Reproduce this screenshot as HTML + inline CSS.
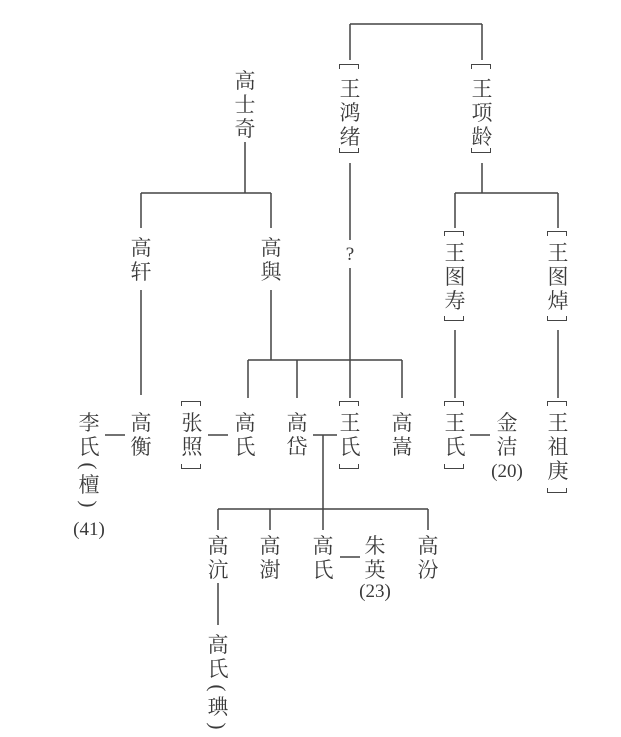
<!DOCTYPE html>
<html><head><meta charset="utf-8"><style>
body{margin:0;background:#fff;}
#w{position:relative;width:621px;height:737px;overflow:hidden;font-family:"Liberation Serif","Noto Serif CJK SC",serif;color:#3a3a3a;}
.v{position:absolute;width:24px;text-align:center;font-size:21px;line-height:24px;}
.v i{display:block;font-style:normal;line-height:14px;height:14px;transform:rotate(90deg);}
.h{position:absolute;font-size:19px;line-height:20px;transform:translateX(-50%);white-space:nowrap;}
.bt,.bb{position:absolute;width:18px;height:4px;border:1.5px solid #444;}
.bt{border-bottom:none;}
.bb{border-top:none;}
svg{position:absolute;left:0;top:0;}
</style></head><body><div id="w">
<svg width="621" height="737" stroke="#444" stroke-width="1.5" fill="none">
<path d="M350 24H482M350 24V60M482 24V60"/>
<path d="M350 163V240M350 268V398M248 360H402M248 360V398M297 360V398M402 360V398M271 290V360"/>
<path d="M482 163V193M455 193H558M455 193V228M558 193V228M455 330V398M558 330V398"/>
<path d="M245 142V193M141 193H271M141 193V228M271 193V228M141 290V395"/>
<path d="M105 435H125M208 435H228M313 435H337M323 435V509M218 509H428M218 509V530M270 509V530M323 509V530M428 509V530M340 557H360M470 435H490M218 583V625"/>
</svg>
<div class="v" style="left:233px;top:69px">高<br>士<br>奇</div>
<div class="bt" style="left:339px;top:64px"></div><div class="v" style="left:338px;top:77px">王<br>鸿<br>绪</div><div class="bb" style="left:339px;top:148px"></div>
<div class="bt" style="left:471px;top:64px"></div><div class="v" style="left:470px;top:77px">王<br>项<br>龄</div><div class="bb" style="left:471px;top:148px"></div>
<div class="h" style="left:350px;top:245px">?</div>
<div class="v" style="left:129px;top:236px">高<br>轩</div>
<div class="v" style="left:259px;top:236px">高<br>與</div>
<div class="bt" style="left:444px;top:231px"></div><div class="v" style="left:443px;top:241px">王<br>图<br>寿</div><div class="bb" style="left:444px;top:316px"></div>
<div class="bt" style="left:547px;top:231px"></div><div class="v" style="left:546px;top:241px">王<br>图<br>焯</div><div class="bb" style="left:547px;top:316px"></div>
<div class="v" style="left:77px;top:411px">李<br>氏<i>(</i>檀<i>)</i></div>
<div class="h" style="left:89px;top:520px">(41)</div>
<div class="v" style="left:129px;top:411px">高<br>衡</div>
<div class="bt" style="left:181px;top:401px"></div><div class="v" style="left:180px;top:411px">张<br>照</div><div class="bb" style="left:181px;top:464px"></div>
<div class="v" style="left:233px;top:411px">高<br>氏</div>
<div class="v" style="left:285px;top:411px">高<br>岱</div>
<div class="bt" style="left:339px;top:401px"></div><div class="v" style="left:338px;top:411px">王<br>氏</div><div class="bb" style="left:339px;top:464px"></div>
<div class="v" style="left:390px;top:411px">高<br>嵩</div>
<div class="bt" style="left:444px;top:401px"></div><div class="v" style="left:443px;top:411px">王<br>氏</div><div class="bb" style="left:444px;top:464px"></div>
<div class="v" style="left:495px;top:411px">金<br>洁</div>
<div class="h" style="left:507px;top:462px">(20)</div>
<div class="bt" style="left:547px;top:401px"></div><div class="v" style="left:546px;top:411px">王<br>祖<br>庚</div><div class="bb" style="left:547px;top:488px"></div>
<div class="v" style="left:206px;top:534px">高<br>沆</div>
<div class="v" style="left:258px;top:534px">高<br>澍</div>
<div class="v" style="left:311px;top:534px">高<br>氏</div>
<div class="v" style="left:363px;top:534px">朱<br>英</div>
<div class="h" style="left:375px;top:582px">(23)</div>
<div class="v" style="left:416px;top:534px">高<br>汾</div>
<div class="v" style="left:206px;top:633px">高<br>氏<i>(</i>琠<i>)</i></div>
</div></body></html>
